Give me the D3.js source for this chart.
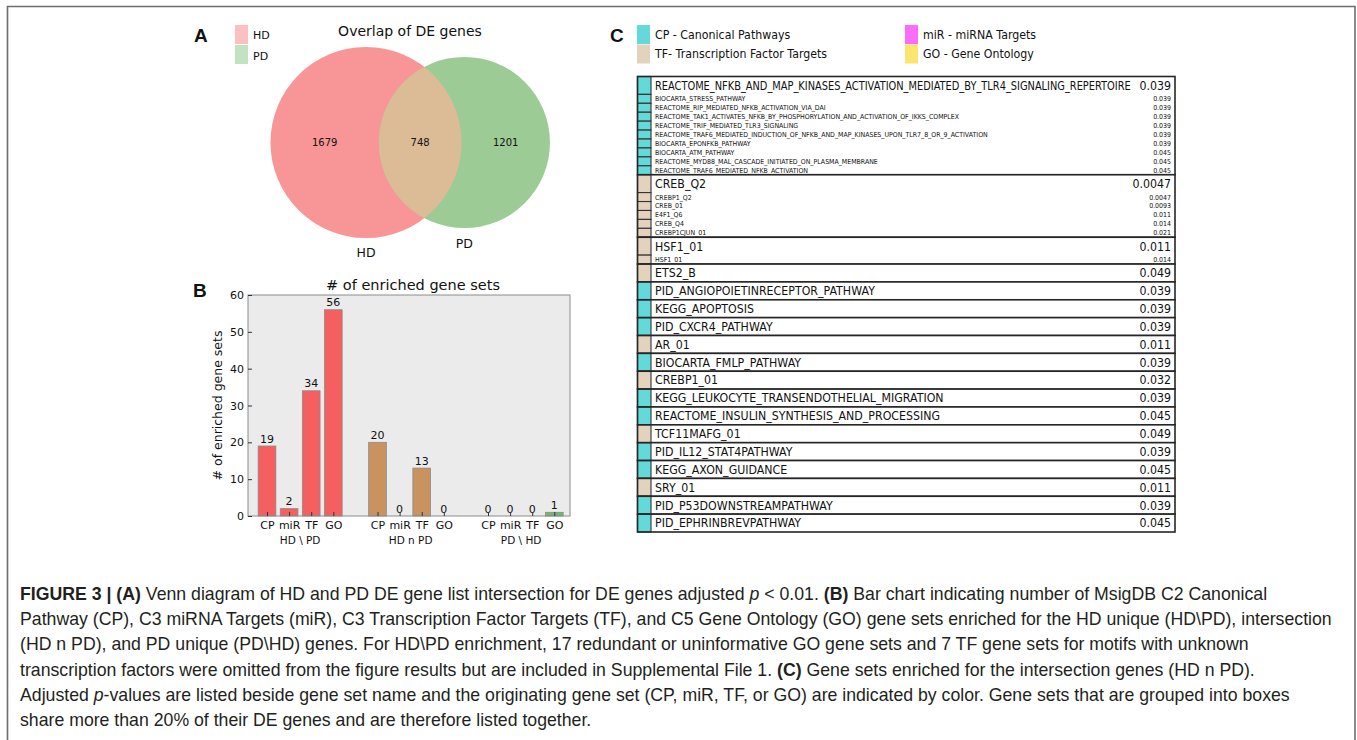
<!DOCTYPE html>
<html>
<head>
<meta charset="utf-8">
<script src="https://cdn.jsdelivr.net/npm/d3@7"></script>
<style>
  body { margin: 0; background: #fff; }
  svg { display: block; }
</style>
</head>
<body>
<svg id="fig" width="1357" height="740"></svg>
<script>
// ---------- Panel A: overlap of DE genes ----------
const vennSets = ["HD", "PD"];
const vennRegionCounts = [1679, 748, 1201];   // HD only, shared, PD only

// ---------- Panel B: number of enriched gene sets ----------
const barGroups = ["HD \\ PD", "HD n PD", "PD \\ HD"];
const barCategories = ["CP", "miR", "TF", "GO"];
const barHDonly = [19, 2, 34, 56];
const barShared = [20, 0, 13, 0];
const barPDonly = [0, 0, 0, 1];
const barTicks = [0, 10, 20, 30, 40, 50, 60];

// ---------- Panel C: gene sets enriched for the shared genes ----------
const setTypes = ["CP", "TF", "miR", "GO"];
const setTypeLabels = ["CP - Canonical Pathways", "TF- Transcription Factor Targets",
                       "miR - miRNA Targets", "GO - Gene Ontology"];

const groupNames = [
  ["REACTOME_NFKB_AND_MAP_KINASES_ACTIVATION_MEDIATED_BY_TLR4_SIGNALING_REPERTOIRE",
   "BIOCARTA_STRESS_PATHWAY",
   "REACTOME_RIP_MEDIATED_NFKB_ACTIVATION_VIA_DAI",
   "REACTOME_TAK1_ACTIVATES_NFKB_BY_PHOSPHORYLATION_AND_ACTIVATION_OF_IKKS_COMPLEX",
   "REACTOME_TRIF_MEDIATED_TLR3_SIGNALING",
   "REACTOME_TRAF6_MEDIATED_INDUCTION_OF_NFKB_AND_MAP_KINASES_UPON_TLR7_8_OR_9_ACTIVATION",
   "BIOCARTA_EPONFKB_PATHWAY",
   "BIOCARTA_ATM_PATHWAY",
   "REACTOME_MYD88_MAL_CASCADE_INITIATED_ON_PLASMA_MEMBRANE",
   "REACTOME_TRAF6_MEDIATED_NFKB_ACTIVATION"],
  ["CREB_Q2", "CREBP1_Q2", "CREB_01", "E4F1_Q6", "CREB_Q4", "CREBP1CJUN_01"],
  ["HSF1_01", "HSF1_01"],
  ["ETS2_B"],
  ["PID_ANGIOPOIETINRECEPTOR_PATHWAY"],
  ["KEGG_APOPTOSIS"],
  ["PID_CXCR4_PATHWAY"],
  ["AR_01"],
  ["BIOCARTA_FMLP_PATHWAY"],
  ["CREBP1_01"],
  ["KEGG_LEUKOCYTE_TRANSENDOTHELIAL_MIGRATION"],
  ["REACTOME_INSULIN_SYNTHESIS_AND_PROCESSING"],
  ["TCF11MAFG_01"],
  ["PID_IL12_STAT4PATHWAY"],
  ["KEGG_AXON_GUIDANCE"],
  ["SRY_01"],
  ["PID_P53DOWNSTREAMPATHWAY"],
  ["PID_EPHRINBREVPATHWAY"]
];
const groupPvals = [
  ["0.039", "0.039", "0.039", "0.039", "0.039", "0.039", "0.039", "0.045", "0.045", "0.045"],
  ["0.0047", "0.0047", "0.0093", "0.011", "0.014", "0.021"],
  ["0.011", "0.014"],
  ["0.049"], ["0.039"], ["0.039"], ["0.039"], ["0.011"], ["0.039"], ["0.032"],
  ["0.039"], ["0.045"], ["0.049"], ["0.039"], ["0.045"], ["0.011"], ["0.039"], ["0.045"]
];
const groupTypes = [
  ["CP", "CP", "CP", "CP", "CP", "CP", "CP", "CP", "CP", "CP"],
  ["TF", "TF", "TF", "TF", "TF", "TF"],
  ["TF", "TF"],
  ["TF"], ["CP"], ["CP"], ["CP"], ["TF"], ["CP"], ["TF"],
  ["CP"], ["CP"], ["TF"], ["CP"], ["CP"], ["TF"], ["CP"], ["CP"]
];

// ---------- Caption ----------
const captionLines = [
  [["FIGURE 3 | (A)", "b"], [" Venn diagram of HD and PD DE gene list intersection for DE genes adjusted ", ""], ["p", "i"], [" < 0.01. ", ""], ["(B)", "b"], [" Bar chart indicating number of MsigDB C2 Canonical", ""]],
  [["Pathway (CP), C3 miRNA Targets (miR), C3 Transcription Factor Targets (TF), and C5 Gene Ontology (GO) gene sets enriched for the HD unique (HD\\PD), intersection", ""]],
  [["(HD n PD), and PD unique (PD\\HD) genes. For HD\\PD enrichment, 17 redundant or uninformative GO gene sets and 7 TF gene sets for motifs with unknown", ""]],
  [["transcription factors were omitted from the figure results but are included in Supplemental File 1. ", ""], ["(C)", "b"], [" Gene sets enriched for the intersection genes (HD n PD).", ""]],
  [["Adjusted ", ""], ["p", "i"], ["-values are listed beside gene set name and the originating gene set (CP, miR, TF, or GO) are indicated by color. Gene sets that are grouped into boxes", ""]],
  [["share more than 20% of their DE genes and are therefore listed together.", ""]]
];

const FONT = "'DejaVu Sans', Verdana, sans-serif";
const svg = d3.select("#fig");

// outer figure frame
svg.append("path")
  .attr("d", "M7.5,745V6.5H1355V745")
  .attr("fill", "none").attr("stroke", "#6e6e6e").attr("stroke-width", 1.6);

// panel letters
[["A", 194, 42], ["B", 193, 297], ["C", 610, 42]].forEach(([t, x, y]) => {
  svg.append("text").attr("x", x).attr("y", y).text(t)
    .attr("font-family", "'Liberation Sans', Arial, sans-serif")
    .attr("font-weight", "bold").attr("font-size", 19).attr("fill", "#111");
});

// ===================== Panel A =====================
(function drawVenn() {
  const g = svg.append("g");
  const hdTotal = vennRegionCounts[0] + vennRegionCounts[1];
  const pdTotal = vennRegionCounts[2] + vennRegionCounts[1];
  const rScale = d3.scaleSqrt().domain([0, hdTotal]).range([0, 95.5]);
  const r1 = rScale(hdTotal), r2 = rScale(pdTotal);
  const unitArea = Math.PI * r1 * r1 / hdTotal;
  const target = vennRegionCounts[1] * unitArea;

  // area of the lens formed by two circles at centre distance d
  function lens(d) {
    const a = (d * d + r1 * r1 - r2 * r2) / (2 * d * r1);
    const b = (d * d + r2 * r2 - r1 * r1) / (2 * d * r2);
    const k = (-d + r1 + r2) * (d + r1 - r2) * (d - r1 + r2) * (d + r1 + r2);
    return r1 * r1 * Math.acos(a) + r2 * r2 * Math.acos(b) - 0.5 * Math.sqrt(Math.max(k, 0));
  }
  let lo = Math.abs(r1 - r2) + 1e-6, hi = r1 + r2 - 1e-6;
  for (let i = 0; i < 80; i++) {
    const mid = (lo + hi) / 2;
    if (lens(mid) > target) lo = mid; else hi = mid;
  }
  const dist = (lo + hi) / 2;
  const cy = 142.5, cx1 = 366, cx2 = cx1 + dist;

  const colHD = "#f89697", colPD = "#9ccb96", colBoth = "#dcbb97";

  g.append("clipPath").attr("id", "clipHD")
    .append("circle").attr("cx", cx1).attr("cy", cy).attr("r", r1);
  g.append("circle").attr("cx", cx1).attr("cy", cy).attr("r", r1).attr("fill", colHD);
  g.append("circle").attr("cx", cx2).attr("cy", cy).attr("r", r2).attr("fill", colPD);
  g.append("circle").attr("cx", cx2).attr("cy", cy).attr("r", r2)
    .attr("fill", colBoth).attr("clip-path", "url(#clipHD)");

  const edges = [cx1 - r1, cx2 - r2, cx1 + r1, cx2 + r2];
  const labelX = [(edges[0] + edges[1]) / 2, (edges[1] + edges[2]) / 2, (edges[2] + edges[3]) / 2];
  vennRegionCounts.forEach((v, i) => {
    g.append("text").attr("x", labelX[i]).attr("y", cy + 3.6)
      .attr("text-anchor", "middle").attr("font-family", FONT).attr("font-size", 10)
      .attr("fill", "#111").text(v);
  });

  g.append("text").attr("x", cx1).attr("y", cy + r1 + 19).attr("text-anchor", "middle")
    .attr("font-family", FONT).attr("font-size", 12.5).attr("fill", "#111").text(vennSets[0]);
  g.append("text").attr("x", cx2).attr("y", cy + r2 + 20).attr("text-anchor", "middle")
    .attr("font-family", FONT).attr("font-size", 12.5).attr("fill", "#111").text(vennSets[1]);

  g.append("text").attr("x", 410).attr("y", 36).attr("text-anchor", "middle")
    .attr("font-family", FONT).attr("font-size", 14).attr("fill", "#111").text("Overlap of DE genes");

  // legend
  const legCols = ["#fdc0c0", "#c3e2c2"];
  vennSets.forEach((s, i) => {
    g.append("rect").attr("x", 235).attr("y", 25 + i * 20).attr("width", 13).attr("height", 19)
      .attr("fill", legCols[i]);
    g.append("text").attr("x", 253).attr("y", 38.5 + i * 21).attr("font-family", FONT)
      .attr("font-size", 11).attr("fill", "#111").text(s);
  });
})();

// ===================== Panel B =====================
(function drawBars() {
  const g = svg.append("g");
  const left = 248, right = 570, top = 295, bottom = 516;
  const x = d3.scaleLinear().domain([-0.86, 13.71]).range([left, right]);
  const y = d3.scaleLinear().domain([0, 60]).range([bottom, top]);
  const groupColors = ["#f55f5f", "#c9935f", "#68bd68"];
  const series = [barHDonly, barShared, barPDonly];

  const bars = [];
  series.forEach((vals, gi) => vals.forEach((v, ci) => {
    bars.push({ slot: gi * 5 + ci, value: v, cat: barCategories[ci], color: groupColors[gi] });
  }));

  g.append("rect").attr("x", left).attr("y", top).attr("width", right - left)
    .attr("height", bottom - top).attr("fill", "#ebebeb");

  const bw = 0.8;
  g.selectAll("rect.bar").data(bars.filter(d => d.value > 0)).join("rect")
    .attr("class", "bar")
    .attr("x", d => x(d.slot - bw / 2)).attr("width", x(bw) - x(0))
    .attr("y", d => y(d.value)).attr("height", d => y(0) - y(d.value))
    .attr("fill", d => d.color).attr("stroke", "#8a8a8a").attr("stroke-width", 0.8);

  g.selectAll("text.val").data(bars).join("text")
    .attr("class", "val")
    .attr("x", d => x(d.slot)).attr("y", d => y(d.value) - 3.5)
    .attr("text-anchor", "middle").attr("font-family", FONT).attr("font-size", 11)
    .attr("fill", "#111").text(d => d.value);

  // frame
  g.append("rect").attr("x", left).attr("y", top).attr("width", right - left)
    .attr("height", bottom - top).attr("fill", "none").attr("stroke", "#8c8c8c").attr("stroke-width", 1);

  const yAxis = g.append("g").attr("transform", `translate(${left},0)`)
    .call(d3.axisLeft(y).tickValues(barTicks).tickSizeInner(-4).tickSizeOuter(0).tickPadding(4));
  yAxis.select(".domain").remove();
  yAxis.selectAll("line").attr("stroke", "#333");
  yAxis.selectAll("text").attr("font-family", FONT).attr("font-size", 11).attr("fill", "#111");

  const xAxis = g.append("g").attr("transform", `translate(0,${bottom})`)
    .call(d3.axisBottom(x).tickValues(bars.map(d => d.slot))
      .tickFormat(s => barCategories[s % 5]).tickSizeInner(-4).tickSizeOuter(0).tickPadding(5));
  xAxis.select(".domain").remove();
  xAxis.selectAll("line").attr("stroke", "#333");
  xAxis.selectAll("text").attr("font-family", FONT).attr("font-size", 11).attr("fill", "#111");

  barGroups.forEach((name, gi) => {
    g.append("text").attr("x", x(gi * 5 + 1.5)).attr("y", 543.5).attr("text-anchor", "middle")
      .attr("font-family", FONT).attr("font-size", 10.5).attr("fill", "#111").text(name);
  });

  g.append("text").attr("x", 413).attr("y", 290).attr("text-anchor", "middle")
    .attr("font-family", FONT).attr("font-size", 14.5).attr("fill", "#111").text("# of enriched gene sets");
  g.append("text").attr("transform", `translate(222,${(top + bottom) / 2}) rotate(-90)`)
    .attr("text-anchor", "middle").attr("font-family", FONT).attr("font-size", 12.5)
    .attr("fill", "#111").text("# of enriched gene sets");
})();

// ===================== Panel C =====================
(function drawTable() {
  const g = svg.append("g");
  const sx = 0.92;                 // horizontal compression of the table type
  const typeColor = { CP: "#63d9d9", TF: "#e4d3bc", miR: "#fb6cfb", GO: "#fde56d" };

  // legend
  setTypes.forEach((t, i) => {
    const col = Math.floor(i / 2), row = i % 2;
    const lx = 637 + col * 268, ly = 25 + row * 19.5;
    g.append("rect").attr("x", lx).attr("y", ly).attr("width", 13).attr("height", 19)
      .attr("fill", typeColor[t]);
    g.append("text").attr("transform", `translate(${lx + 18},${ly + 13.5}) scale(${sx},1)`)
      .attr("font-family", FONT).attr("font-size", 12).attr("fill", "#111").text(setTypeLabels[i]);
  });

  const tableL = 637.5, tableR = 1175, stripW = 13.5;
  let units = 0;
  const layout = groupNames.map(names => {
    const start = units;
    units += names.length + 1;
    return { start, end: units };
  });
  const rowY = d3.scaleLinear().domain([0, units]).range([76.5, 532]);

  groupNames.forEach((names, gi) => {
    const { start, end } = layout[gi];
    const gy0 = rowY(start), gy1 = rowY(end);
    g.append("rect").attr("x", tableL).attr("y", gy0).attr("width", tableR - tableL)
      .attr("height", gy1 - gy0).attr("fill", "#fff");

    names.forEach((name, k) => {
      const u0 = start + (k === 0 ? 0 : k + 1);
      const u1 = start + (k === 0 ? 2 : k + 2);
      const y0 = rowY(u0), y1 = rowY(u1), h = y1 - y0;
      const big = k === 0;
      const fs = big ? 12 : 6.8;
      const base = y0 + h / 2 + fs * 0.36;

      g.append("rect").attr("x", tableL).attr("y", y0).attr("width", stripW).attr("height", h)
        .attr("fill", typeColor[groupTypes[gi][k]]).attr("stroke", "#333").attr("stroke-width", 1.1);

      const pv = g.append("text").attr("text-anchor", "end")
        .attr("transform", `translate(${tableR - 4},${base}) scale(${sx},1)`)
        .attr("font-family", FONT).attr("font-size", fs).attr("fill", "#111").text(groupPvals[gi][k]);

      const nm = g.append("text")
        .attr("font-family", FONT).attr("font-size", fs).attr("fill", "#111").text(name);
      // shrink names that would run into the p-value column
      const maxW = (tableR - 4 - pv.node().getComputedTextLength() * sx - 8) - (tableL + stripW + 4);
      const len = nm.node().getComputedTextLength();
      const s = Math.min(sx, maxW / len);
      nm.attr("transform", `translate(${tableL + stripW + 4},${base}) scale(${s},1)`);
    });

    g.append("rect").attr("x", tableL).attr("y", gy0).attr("width", tableR - tableL)
      .attr("height", gy1 - gy0).attr("fill", "none").attr("stroke", "#262626").attr("stroke-width", 1.6);
  });
})();

// ===================== Caption =====================
(function drawCaption() {
  const g = svg.append("g");
  captionLines.forEach((segs, i) => {
    const t = g.append("text").attr("x", 20).attr("y", 600 + i * 25.2)
      .attr("font-family", "'Liberation Sans', Arial, Helvetica, sans-serif")
      .attr("font-size", 17.7).attr("fill", "#231f20");
    segs.forEach(([txt, style]) => {
      const sp = t.append("tspan").text(txt);
      if (style === "b") sp.attr("font-weight", "bold");
      if (style === "i") sp.attr("font-style", "italic");
    });
  });
})();
</script>
</body>
</html>
